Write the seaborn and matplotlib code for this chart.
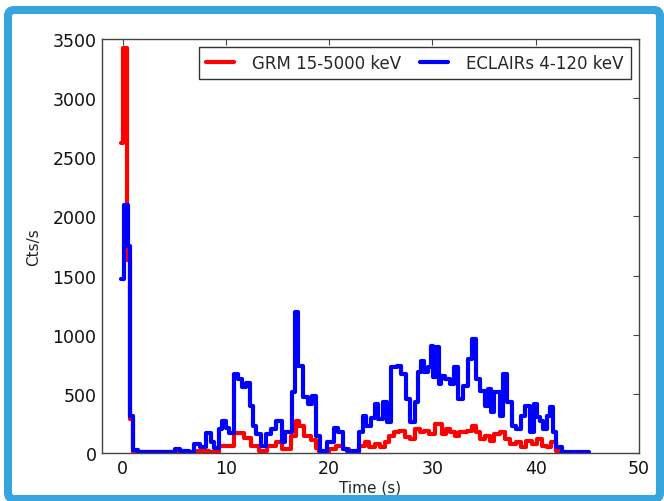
import matplotlib
matplotlib.use("Agg")
import matplotlib.pyplot as plt
from matplotlib.patches import FancyBboxPatch
import seaborn as sns

# GRM light curve (15-5000 keV): bin start times (s) and count rates (cts/s)
grm_t = [-0.2, 0.05, 0.45, 0.7, 1.0, 7.06, 8.35, 9.32, 10.78, 11.75, 12.4,
         13.2, 14.0, 14.82, 15.47, 16.28, 16.77, 17.09, 17.58, 18.22, 18.71,
         19.03, 20.0, 20.65, 21.3, 21.94, 22.91, 23.5, 23.9, 24.4, 24.9, 25.4,
         25.8, 26.3, 26.8, 27.3, 27.8, 28.3, 28.8, 29.2, 29.7, 30.2, 30.9, 31.3,
         31.7, 32.2, 32.6, 33.3, 33.8, 34.2, 34.6, 35.1, 35.6, 36.0, 36.5, 37.0,
         37.5, 38.1, 38.6, 39.1, 39.6, 40.1, 40.6, 41.1, 41.5, 42.0, 42.3]
grm_cts = [2620, 3420, 1630, 290, 5, 15, 5, 62, 169, 127, 62,
           20, 62, 93, 35, 144, 273, 231, 144, 113, 45,
           5, 35, 62, 35, 5, 62, 93, 48, 76, 48, 93,
           146, 175, 189, 132, 118, 203, 175, 189, 160, 245, 160, 203,
           175, 146, 175, 189, 231, 175, 118, 146, 104, 160, 175, 118,
           76, 90, 48, 104, 76, 118, 62, 48, 97, 20, 0]

# ECLAIRs light curve (4-120 keV): bin start times (s) and count rates (cts/s)
ecl_t = [-0.17, 0.12, 0.5, 0.7, 1.0, 1.5, 2.5, 3.0, 3.5, 4.0, 4.5, 5.11, 5.6,
         6.4, 6.95, 7.5, 8.03, 8.51, 8.84, 9.32, 9.65, 9.97, 10.29, 10.78, 11.2,
         11.59, 11.91, 12.3, 12.62, 12.95, 13.37, 13.92, 14.34, 14.82, 15.47,
         15.73, 16.44, 16.7, 17.02, 17.48, 17.9, 18.38, 18.77, 19.1, 19.74,
         20.49, 20.81, 21.3, 21.7, 22.91, 23.24, 23.56, 24.05, 24.4, 24.7, 25.2,
         25.6, 26.0, 26.6, 27.0, 27.4, 27.8, 28.3, 28.6, 28.9, 29.2, 29.6, 29.9,
         30.1, 30.3, 30.6, 30.8, 31.2, 31.7, 32.1, 32.5, 33.0, 33.4, 33.8, 34.2,
         34.6, 35.1, 35.4, 35.7, 36.0, 36.5, 36.8, 37.2, 37.7, 38.1, 38.6, 39.0,
         39.4, 39.8, 40.1, 40.4, 40.7, 41.1, 41.4, 41.7, 42.0, 42.5, 45.2]
ecl_cts = [1470, 2100, 1750, 314, 25, 8, 12, 5, 10, 5, 12, 34, 20,
           10, 76, 48, 169, 93, 45, 203, 273, 214, 169, 668, 625,
           558, 591, 400, 231, 160, 62, 160, 203, 273, 93,
           180, 515, 1190, 738, 473, 414, 484, 144, 20, 93,
           214, 180, 30, 20, 180, 315, 231, 300, 414, 287, 429,
           259, 724, 738, 668, 456, 259, 429, 682, 780, 682, 724, 907,
           640, 893, 583, 654, 625, 583, 724, 456, 569, 795, 964, 625,
           527, 400, 541, 344, 513, 315, 668, 429, 231, 203, 315, 400,
           175, 414, 301, 273, 203, 315, 385, 175, 48, 5, 5]

x_ticks = [0, 10, 20, 30, 40, 50]
y_ticks = [0, 500, 1000, 1500, 2000, 2500, 3000, 3500]

sns.set_theme(style="white")
plt.rcParams['font.family'] = ['DejaVu Sans']

W, H = 664, 502
fig = plt.figure(figsize=(W / 100, H / 100), dpi=100)
fig.patch.set_facecolor("white")

# rounded blue frame around the whole figure
frame = FancyBboxPatch((8, 2), 652, 489,
                       boxstyle="round,pad=0,rounding_size=6",
                       transform=None, facecolor="none",
                       edgecolor="#35a5db", linewidth=5.8)
fig.patches.append(frame)

ax = fig.add_axes([102 / W, 48 / H, 537 / W, 414 / H])

sns.lineplot(x=grm_t, y=grm_cts, ax=ax, color="red", lw=3,
             drawstyle="steps-post", estimator=None, sort=False,
             label="GRM 15-5000 keV")
sns.lineplot(x=ecl_t, y=ecl_cts, ax=ax, color="blue", lw=3,
             drawstyle="steps-post", estimator=None, sort=False,
             label="ECLAIRs 4-120 keV")

ax.set_xlim(-2, 50)
ax.set_ylim(0, 3500)
ax.set_xticks(x_ticks)
ax.set_yticks(y_ticks)
ax.set_xlabel("Time (s)", fontsize=11, labelpad=2)
ax.set_ylabel("Cts/s", fontsize=11, labelpad=8)

for s in ax.spines.values():
    s.set_color("#444444")
    s.set_linewidth(1.0)
ax.tick_params(direction="in", top=True, right=True, length=4, width=0.8,
               color="#444444", labelsize=12.5, labelcolor="#111111", pad=4)

leg = ax.legend(loc="upper right", ncol=2, fontsize=12, frameon=True,
                fancybox=False, edgecolor="black", handlelength=1.7,
                handletextpad=1.1, columnspacing=1.1, borderaxespad=0.5,
                borderpad=0.4)
leg.get_frame().set_linewidth(1.0)

fig.savefig("out.png", dpi=100, facecolor="white")
